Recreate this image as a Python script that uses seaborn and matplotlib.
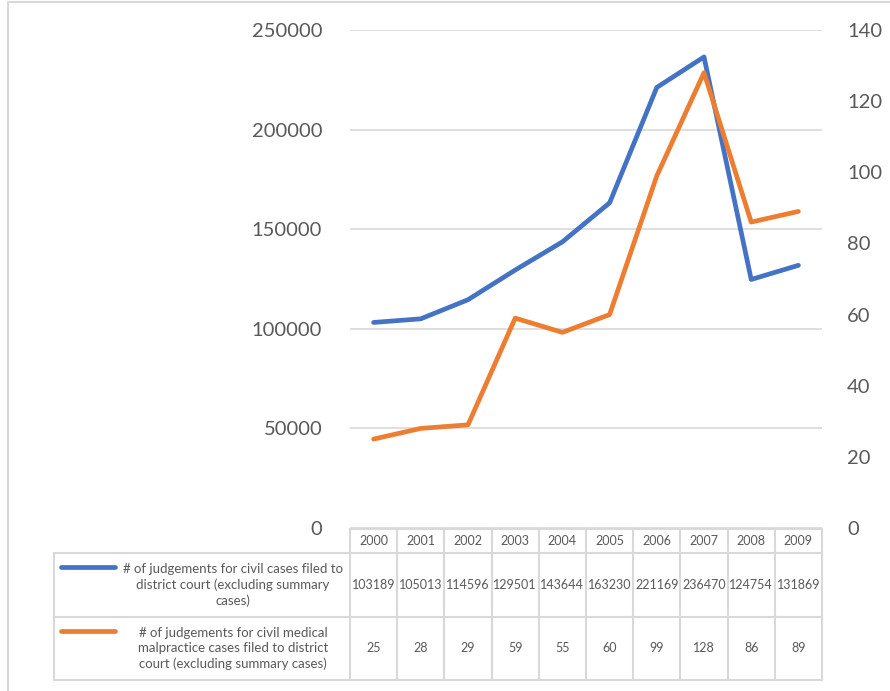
import seaborn as sns
import matplotlib.pyplot as plt
import pandas as pd

# Data
years = ["2000", "2001", "2002", "2003", "2004", "2005", "2006", "2007", "2008", "2009"]
civil_cases = [103189, 105013, 114596, 129501, 143644, 163230, 221169, 236470, 124754, 131869]
malpractice_cases = [25, 28, 29, 59, 55, 60, 99, 128, 86, 89]
series_labels = [
    "# of judgements for civil cases filed to\ndistrict court (excluding summary\ncases)",
    "# of judgements for civil medical\nmalpractice cases filed to district\ncourt (excluding summary cases)",
]
left_ticks = [0, 50000, 100000, 150000, 200000, 250000]
right_ticks = [0, 20, 40, 60, 80, 100, 120, 140]

df = pd.DataFrame({"pos": range(len(years)), "civil": civil_cases, "med": malpractice_cases})

sns.set_style("white")
plt.rcParams['font.family'] = ['Lato', 'DejaVu Sans']

blue = "#4472C4"
orange = "#ED7D31"
grid_c = "#D9D9D9"
txt_c = "#595959"

W, H = 890, 691
fig = plt.figure(figsize=(W / 100, H / 100), dpi=100)

# pixel helpers for layout
def fx(x):
    return x / W

def fy(y):
    return 1 - y / H

ax_l, ax_r, ax_t, ax_b = 350, 822, 30, 528
ax = fig.add_axes([fx(ax_l), fy(ax_b), fx(ax_r - ax_l), fy(ax_t) - fy(ax_b)])
ax2 = ax.twinx()

sns.lineplot(data=df, x="pos", y="civil", ax=ax, color=blue, linewidth=3.4, solid_capstyle="round")
sns.lineplot(data=df, x="pos", y="med", ax=ax2, color=orange, linewidth=3.4, solid_capstyle="round")

ax.set_xlim(-0.5, len(years) - 0.5)
ax.set_ylim(0, 250000)
ax2.set_ylim(0, 140)
ax.set_yticks(left_ticks)
ax.set_yticklabels([str(t) for t in left_ticks])
ax2.set_yticks(right_ticks)
ax2.set_yticklabels([str(t) for t in right_ticks])
ax.set_xticks([])
ax.grid(True, axis='y', color=grid_c, linewidth=1.2)
ax.set_axisbelow(True)
for a in (ax, ax2):
    for s in a.spines.values():
        s.set_visible(False)
    a.set_xlabel("")
    a.set_ylabel("")
    a.tick_params(axis='y', length=0, labelsize=14.5, labelcolor=txt_c, pad=20)
ax2.tick_params(axis='y', pad=18)
ax.tick_params(axis='x', length=0)

# Table below the plot, drawn on an overlay in pixel coordinates
tab = fig.add_axes([0, 0, 1, 1], facecolor="none")
tab.set_xlim(0, W)
tab.set_ylim(H, 0)
tab.axis("off")

line_kw = dict(color=grid_c, linewidth=1.5)
col_w = (ax_r - ax_l) / len(years)
tab_left = 54
rows_y = [529, 553, 617, 680]

# horizontal lines
tab.plot([ax_l, ax_r], [rows_y[0], rows_y[0]], **line_kw)
for y in rows_y[1:]:
    tab.plot([tab_left, ax_r], [y, y], **line_kw)
# vertical lines
for i in range(len(years) + 1):
    x = ax_l + i * col_w
    tab.plot([x, x], [rows_y[0], rows_y[-1]], **line_kw)
tab.plot([tab_left, tab_left], [rows_y[1], rows_y[-1]], **line_kw)

# header and values
for i, yr in enumerate(years):
    cx = ax_l + (i + 0.5) * col_w
    tab.text(cx, (rows_y[0] + rows_y[1]) / 2, yr, ha='center', va='center', fontsize=9, color=txt_c)
    tab.text(cx, (rows_y[1] + rows_y[2]) / 2, str(civil_cases[i]), ha='center', va='center', fontsize=9, color=txt_c)
    tab.text(cx, (rows_y[2] + rows_y[3]) / 2, str(malpractice_cases[i]), ha='center', va='center', fontsize=9, color=txt_c)

# row labels with legend keys
for j, (lab, col) in enumerate(zip(series_labels, [blue, orange])):
    top = rows_y[j + 1]
    bot = rows_y[j + 2]
    tab.text(233, (top + bot) / 2, lab, ha='center', va='center', multialignment='center',
             fontsize=9.5, color=txt_c, linespacing=1.35)
    tab.plot([61, 115], [top + 14, top + 14], color=col, linewidth=3.4, solid_capstyle="round")

# outer chart border
tab.plot([8, 8, 900], [700, 2, 2], color=grid_c, linewidth=1.5)

plt.savefig("out.png", dpi=100)
